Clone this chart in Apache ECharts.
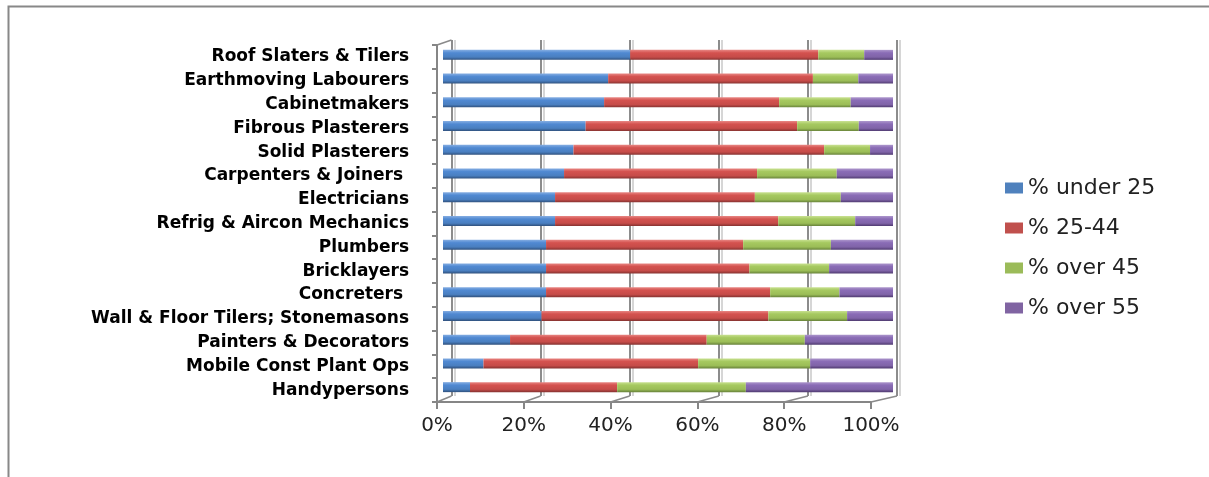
<!DOCTYPE html>
<html>
<head>
<meta charset="utf-8">
<title>Trade occupations by age group</title>
<script src="https://cdn.jsdelivr.net/npm/echarts@6/dist/echarts.min.js"></script>
<style>
  html, body { margin: 0; padding: 0; background: #ffffff; }
  #chart { width: 1209px; height: 477px; }
</style>
</head>
<body>
<div id="chart"></div>
<script>
// Occupations, listed top to bottom
const occupations = [
  'Roof Slaters & Tilers',
  'Earthmoving Labourers',
  'Cabinetmakers',
  'Fibrous Plasterers',
  'Solid Plasterers',
  'Carpenters & Joiners ',
  'Electricians',
  'Refrig & Aircon Mechanics',
  'Plumbers',
  'Bricklayers',
  'Concreters ',
  'Wall & Floor Tilers; Stonemasons',
  'Painters & Decorators',
  'Mobile Const Plant Ops',
  'Handypersons'
];

const seriesNames = ['% under 25', '% 25-44', '% over 45', '% over 55'];

// Share of workers in each age group (per cent of occupation)
const under25   = [41.6, 36.7, 35.8, 31.7, 29.0, 26.9, 24.9, 24.9, 22.9, 22.9, 22.9, 21.9, 14.9,  9.0,  6.0];
const age25to44 = [41.8, 45.5, 38.9, 47.0, 55.7, 42.9, 44.4, 49.6, 43.8, 45.2, 49.8, 50.4, 43.7, 47.7, 32.7];
const over45    = [10.2, 10.1, 15.9, 13.7, 10.2, 17.7, 19.1, 17.1, 19.5, 17.7, 15.4, 17.5, 21.8, 24.9, 28.6];
const over55    = [ 6.4,  7.7,  9.4,  7.6,  5.1, 12.5, 11.6,  8.4, 13.8, 14.2, 11.9, 10.2, 19.6, 18.4, 32.7];

const percentTicks = [0, 20, 40, 60, 80, 100];

// Plot layout: front axes, bar plane, and the back wall of the 3-D box
const FRONT = { left: 437, top: 45, width: 434, height: 357 };
const BARS  = { left: 443, top: 43, width: 450, height: 356 };
const BACK  = { left: 451.5, top: 40, width: 445.5, height: 356 };

const flatColors = ['#4F81BD', '#C0504D', '#9BBB59', '#8064A2'];
const tubeStops = [
  ['#86aee2', '#5089d2', '#4a7fc0', '#2f507c'],
  ['#e88784', '#d4524f', '#c64c49', '#853230'],
  ['#c9e192', '#a6c960', '#9bbd57', '#67823a'],
  ['#ad97cc', '#8a6cb6', '#8064a8', '#4f3a70']
];

function tube(stops) {
  return new echarts.graphic.LinearGradient(0, 0, 0, 1, [
    { offset: 0, color: stops[0] },
    { offset: 0.3, color: stops[1] },
    { offset: 0.72, color: stops[2] },
    { offset: 1, color: stops[3] }
  ]);
}

const seriesValues = [under25, age25to44, over45, over55];

const barSeries = seriesNames.map((name, i) => ({
  name: name,
  type: 'bar',
  stack: 'share',
  xAxisIndex: 2,
  yAxisIndex: 2,
  barWidth: 10,
  itemStyle: { color: tube(tubeStops[i]) },
  emphasis: { disabled: true },
  data: seriesValues[i]
}));

// Depth edges of the 3-D floor, running from each front tick to the back wall
const depthEdges = {
  type: 'custom',
  xAxisIndex: 3,
  yAxisIndex: 3,
  silent: true,
  clip: false,
  z: 1,
  encode: { x: 0, y: 1 },
  data: percentTicks.map(v => [v, 0]),
  renderItem: function (params, api) {
    const cs = params.coordSys;
    const v = api.value(0);
    const x0 = api.coord([v, 0])[0];
    const y0 = cs.y + cs.height;
    const x1 = BACK.left + v / 100 * BACK.width;
    const y1 = BACK.top + BACK.height;
    const style = { stroke: '#8a8a8a', lineWidth: 1.5 };
    const children = [{ type: 'line', shape: { x1: x0, y1: y0, x2: x1, y2: y1 }, style: style }];
    if (v === 0) {
      children.push({ type: 'line', shape: { x1: cs.x, y1: cs.y, x2: BACK.left, y2: BACK.top }, style: style });
    }
    return { type: 'group', children: children };
  }
};

function wallAxis(grid, color) {
  return {
    gridIndex: grid, type: 'value', min: 0, max: 100, interval: 20,
    axisLine: { show: false }, axisTick: { show: false }, axisLabel: { show: false },
    splitLine: { show: true, lineStyle: { color: color, width: 2 } }
  };
}

const axisGrey = { color: '#868686', width: 2 };

const option = {
  animation: false,
  backgroundColor: '#ffffff',
  textStyle: { fontFamily: 'DejaVu Sans' },
  graphic: [{
    type: 'rect',
    silent: true,
    shape: { x: 8.5, y: 6.5, width: 1400, height: 600 },
    style: { fill: 'none', stroke: '#888888', lineWidth: 2 }
  }],
  legend: {
    orient: 'vertical',
    left: 1000,
    top: 172,
    itemWidth: 18,
    itemHeight: 11,
    itemGap: 18,
    icon: 'rect',
    selectedMode: false,
    textStyle: { fontSize: 22, lineHeight: 22, color: '#222222', fontFamily: 'DejaVu Sans' },
    data: seriesNames.map((n, i) => ({ name: n, itemStyle: { color: flatColors[i] } }))
  },
  grid: [
    { left: BACK.left + 3, top: BACK.top, width: BACK.width, height: BACK.height },
    { left: BACK.left, top: BACK.top, width: BACK.width, height: BACK.height },
    { left: BARS.left, top: BARS.top, width: BARS.width, height: BARS.height },
    { left: FRONT.left, top: FRONT.top, width: FRONT.width, height: FRONT.height }
  ],
  xAxis: [
    wallAxis(0, '#d6d6d6'),
    wallAxis(1, '#8c8c8c'),
    { gridIndex: 2, type: 'value', min: 0, max: 100, show: false },
    {
      gridIndex: 3, type: 'value', min: 0, max: 100, interval: 20,
      axisLine: { show: true, lineStyle: axisGrey },
      axisTick: { show: true, length: 7, lineStyle: axisGrey },
      axisLabel: { fontSize: 20, margin: 14, color: '#222222', fontFamily: 'DejaVu Sans', formatter: '{value}%' },
      splitLine: { show: false }
    }
  ],
  yAxis: [
    { gridIndex: 0, type: 'category', data: occupations, inverse: true, show: false },
    { gridIndex: 1, type: 'category', data: occupations, inverse: true, show: false },
    { gridIndex: 2, type: 'category', data: occupations, inverse: true, show: false },
    {
      gridIndex: 3, type: 'category', data: occupations, inverse: true,
      axisLine: { show: true, lineStyle: axisGrey },
      axisTick: { show: true, length: 5, lineStyle: axisGrey },
      axisLabel: { fontSize: 17, fontWeight: 'bold', margin: 28, color: '#000000', fontFamily: 'DejaVu Sans' },
      splitLine: { show: false }
    }
  ],
  series: barSeries.concat([depthEdges])
};

const chart = echarts.init(document.getElementById('chart'), null, { renderer: 'canvas' });
chart.setOption(option);
</script>
</body>
</html>
